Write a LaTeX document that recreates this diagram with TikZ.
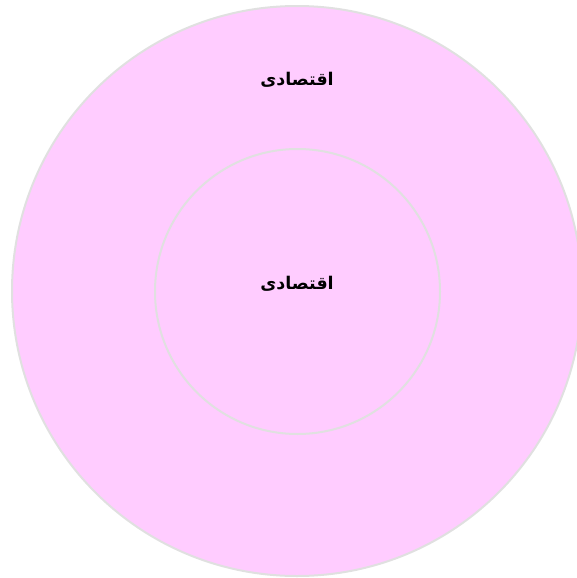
\documentclass[tikz,border=0pt]{standalone}
\usepackage{fontspec}
\TeXXeTstate=1
\newfontfamily\arabicfont[Script=Arabic]{DejaVu Sans}
\definecolor{ringfill}{RGB}{255,204,255}
\definecolor{ringline}{RGB}{224,224,224}
\tikzset{
  ring/.style={draw=ringline, line width=2pt, fill=ringfill},
  lbl/.style={font=\arabicfont\bfseries\fontsize{17.5}{21}\selectfont, text=black, inner sep=0pt}
}
\begin{document}
\begin{tikzpicture}[x=1pt,y=-1pt]
\useasboundingbox (0,0) rectangle (577,578);
\begin{scope}
\clip (0,0) rectangle (577,578);
\node[ring, circle, minimum size=570pt, inner sep=0pt] (outer) at (297,291) {};
\node[ring, circle, minimum size=285pt, inner sep=0pt] (inner) at (297.5,291.5) {};
\end{scope}
\node[lbl] (toplbl) at (297,80) {\beginR اقتصادی\endR};
\node[lbl] (midlbl) at (297,284) {\beginR اقتصادی\endR};
\end{tikzpicture}
\end{document}
